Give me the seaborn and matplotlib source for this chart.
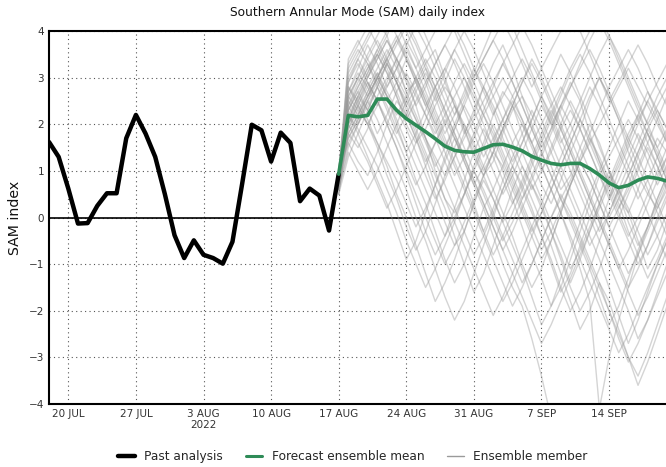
import numpy as np
import pandas as pd
import matplotlib
matplotlib.use("Agg")
import matplotlib.pyplot as plt
import seaborn as sns
from matplotlib.lines import Line2D

# ---------------- data ----------------
past_start = "2022-07-18"
past_values = [1.62, 1.30, 0.62, -0.13, -0.12, 0.25, 0.52, 0.52, 1.70, 2.20,
               1.80, 1.30, 0.50, -0.38, -0.87, -0.49, -0.80, -0.87, -0.99, -0.52,
               0.72, 1.99, 1.87, 1.20, 1.82, 1.60, 0.35, 0.62, 0.47, -0.28, 0.93]

fc_start = "2022-08-17"
mean_values = [0.93, 2.19, 2.16, 2.19, 2.54, 2.54, 2.30, 2.12, 1.98, 1.84,
               1.69, 1.53, 1.44, 1.41, 1.40, 1.48, 1.56, 1.57, 1.51, 1.43,
               1.31, 1.23, 1.16, 1.13, 1.16, 1.16, 1.05, 0.91, 0.74, 0.64,
               0.69, 0.80, 0.87, 0.84, 0.78]

members = [
    [0.9, 2.3, 2.8, 3.2, 3.5, 3.1, 2.6, 2.0, 1.6, 1.9, 2.4, 2.8, 2.5, 1.9, 1.3, 0.9, 1.2, 1.8, 2.3, 2.6, 2.2, 1.7, 1.1, 0.6, 0.9, 1.5, 2.0, 1.6, 1.0, 0.4, 0.1, 0.6, 1.2, 1.7, 1.4],
    [0.8, 1.8, 1.5, 1.9, 2.6, 3.0, 3.4, 3.0, 2.4, 1.7, 1.0, 0.4, 0.1, 0.5, 1.1, 1.6, 2.2, 2.7, 2.4, 1.8, 1.2, 0.7, 0.3, 0.8, 1.4, 1.9, 2.5, 3.0, 2.6, 2.1, 1.4, 0.9, 0.5, 0.2, 0.6],
    [0.7, 2.9, 3.4, 3.8, 4.2, 3.9, 3.3, 2.7, 2.9, 3.3, 3.6, 3.0, 2.4, 1.8, 2.2, 2.8, 3.3, 3.7, 3.2, 2.6, 2.0, 1.5, 1.9, 2.4, 2.9, 2.5, 1.8, 1.2, 0.7, 1.1, 1.6, 2.2, 2.7, 2.3, 1.9],
    [1.0, 1.6, 1.2, 0.9, 1.4, 2.0, 2.5, 2.2, 1.7, 1.1, 0.5, -0.1, -0.6, -0.3, 0.3, 0.9, 1.4, 1.1, 0.6, 0.1, -0.4, -0.9, -0.5, 0.1, 0.7, 1.2, 0.8, 0.3, -0.2, 0.2, 0.7, 1.3, 1.8, 1.4, 0.9],
    [0.6, 2.1, 2.6, 2.3, 2.8, 3.3, 2.9, 2.3, 1.8, 1.3, 0.7, 0.2, -0.4, -1.0, -1.6, -1.2, -0.6, 0.0, 0.6, 1.1, 0.7, 0.2, -0.3, -0.8, -1.4, -0.9, -0.3, 0.3, 0.9, 0.5, -0.1, -0.6, -0.2, 0.4, 0.9],
    [0.9, 2.5, 2.2, 2.7, 3.1, 2.6, 2.0, 1.4, 0.8, 0.3, -0.3, -0.9, -1.4, -1.0, -0.4, 0.2, -0.4, -1.0, -1.5, -1.9, -2.6, -3.4, -4.3, -5.0, -5.4, -5.6, -5.5, -5.3, -5.0, -4.8, -4.6, -4.5, -4.4, -4.3, -4.2],
    [0.8, 2.0, 2.4, 2.9, 2.5, 2.0, 1.5, 0.9, 0.3, -0.3, -0.8, -0.4, 0.2, 0.8, 1.4, 1.9, 1.5, 1.0, 0.4, -0.2, -0.8, -1.3, -1.9, -1.5, -0.9, -0.3, 0.3, 0.9, 0.5, 0.0, -0.5, -1.0, -0.6, 0.0, 0.5],
    [0.9, 2.7, 3.1, 2.8, 2.4, 2.9, 3.4, 3.8, 3.4, 2.9, 2.3, 1.8, 2.2, 2.7, 3.2, 2.8, 2.3, 1.7, 1.2, 1.6, 2.1, 2.6, 3.0, 3.5, 3.1, 2.6, 2.1, 1.5, 1.0, 0.5, 0.9, 1.4, 1.9, 1.5, 1.0],
    [0.7, 1.9, 2.3, 2.0, 1.5, 0.9, 0.4, -0.2, -0.7, -0.3, 0.3, 0.9, 1.5, 2.0, 1.6, 1.1, 0.6, 0.1, -0.4, -1.0, -1.5, -1.1, -0.5, 0.1, 0.7, 1.2, 1.7, 1.3, 0.8, 0.3, -0.3, -0.8, -1.3, -0.9, -0.4],
    [1.0, 3.2, 3.6, 3.3, 2.8, 2.3, 1.8, 2.2, 2.7, 3.1, 2.7, 2.2, 1.7, 1.2, 0.7, 1.1, 1.6, 2.1, 2.6, 3.0, 2.6, 2.1, 1.6, 1.1, 0.6, 0.1, -0.4, -0.9, -1.5, -2.1, -2.7, -2.2, -1.6, -1.0, -0.5],
    [0.5, 1.3, 1.8, 2.3, 2.8, 3.3, 3.7, 4.1, 3.7, 3.2, 2.6, 2.0, 1.4, 0.9, 0.3, -0.3, 0.2, 0.8, 1.3, 1.8, 2.3, 1.9, 1.4, 0.9, 0.4, -0.1, -0.6, -0.2, 0.4, 1.0, 1.5, 2.0, 2.5, 2.1, 1.6],
    [0.9, 2.2, 1.9, 1.5, 1.1, 0.6, 0.1, -0.5, -1.0, -1.5, -1.1, -0.6, -0.1, 0.5, 1.0, 1.5, 2.0, 1.6, 1.1, 0.6, 0.1, -0.4, -0.9, -1.5, -2.0, -1.6, -1.1, -0.5, 0.1, 0.6, 0.2, -0.3, -0.8, -0.4, 0.1],
    [0.8, 2.6, 3.0, 3.5, 3.9, 4.3, 3.9, 3.4, 2.9, 2.4, 1.9, 1.4, 0.9, 1.3, 1.8, 2.3, 2.8, 3.3, 2.9, 2.4, 1.9, 1.4, 0.9, 0.4, 0.8, 1.3, 1.8, 2.3, 2.8, 3.2, 3.6, 3.2, 2.7, 2.2, 1.7],
    [0.6, 1.5, 2.0, 2.5, 2.1, 1.6, 1.1, 0.6, 0.0, -0.5, -1.1, -1.7, -2.2, -1.8, -1.2, -0.6, 0.0, 0.6, 1.1, 0.7, 0.2, -0.4, -1.0, -1.6, -1.2, -0.6, 0.0, 0.5, 1.0, 0.6, 0.1, -0.5, -1.1, -0.7, -0.1],
    [0.9, 2.4, 2.9, 3.3, 2.9, 2.5, 2.9, 3.4, 3.0, 2.5, 2.0, 1.5, 1.9, 2.4, 2.0, 1.5, 1.0, 0.5, 0.9, 1.4, 1.9, 2.4, 2.0, 1.5, 1.0, 0.5, 0.0, -0.5, -1.0, -1.5, -2.0, -2.6, -2.2, -1.7, -1.2],
    [1.0, 1.7, 2.1, 2.6, 3.0, 3.4, 3.0, 2.6, 2.1, 1.6, 1.1, 1.5, 2.0, 2.5, 3.0, 3.4, 3.8, 3.4, 2.9, 2.4, 1.9, 1.4, 0.9, 0.4, -0.1, -0.6, -1.1, -1.7, -2.3, -1.9, -1.3, -0.7, -0.2, 0.3, 0.8],
    [0.7, 2.8, 2.5, 2.1, 1.6, 1.1, 0.5, 0.0, -0.6, -1.2, -1.8, -1.4, -0.9, -0.3, 0.3, 0.8, 0.4, -0.1, -0.6, -1.1, -1.7, -2.3, -1.9, -1.3, -0.7, -0.1, 0.5, 1.0, 1.5, 2.0, 2.5, 2.1, 1.6, 1.1, 0.6],
    [0.8, 2.0, 2.5, 3.0, 3.5, 3.9, 4.4, 4.0, 3.5, 3.0, 2.5, 2.9, 3.4, 3.0, 2.5, 2.0, 1.5, 1.9, 2.4, 2.9, 3.3, 2.9, 2.4, 1.9, 1.4, 0.9, 0.4, -0.1, -0.6, -1.1, -1.6, -2.1, -1.7, -1.2, -0.7],
    [0.9, 2.3, 2.7, 2.3, 1.8, 2.2, 2.7, 3.1, 2.7, 2.2, 1.7, 1.2, 0.7, 0.2, -0.3, -0.8, -1.3, -1.8, -1.4, -0.9, -0.4, 0.1, 0.6, 1.1, 1.6, 2.1, 1.7, 1.2, 0.7, 0.2, 0.6, 1.1, 1.6, 2.1, 2.6],
    [0.6, 1.4, 1.0, 0.6, 1.0, 1.5, 2.0, 2.5, 3.0, 2.6, 2.1, 1.6, 1.1, 0.6, 0.1, -0.4, -0.9, -1.4, -1.9, -1.5, -1.0, -0.5, 0.0, 0.5, 0.1, -0.4, -0.9, -1.4, -2.0, -2.6, -3.1, -2.7, -2.2, -1.6, -1.0],
    [1.0, 3.0, 3.4, 3.0, 3.4, 3.8, 3.4, 2.9, 2.4, 2.8, 3.3, 3.7, 3.3, 2.8, 2.3, 1.8, 1.3, 0.8, 0.3, 0.7, 1.2, 1.7, 2.2, 2.7, 3.2, 3.6, 4.0, 4.3, 3.9, 3.4, 2.9, 2.4, 2.0, 2.4, 2.8],
    [0.5, 1.9, 2.4, 2.0, 1.6, 1.2, 0.8, 0.3, -0.2, 0.2, 0.7, 1.2, 1.7, 1.3, 0.8, 0.3, -0.2, -0.7, -0.3, 0.2, 0.7, 0.3, -0.3, -0.9, -1.5, -2.0, -1.6, -1.1, -0.5, 0.0, 0.5, 1.0, 1.5, 1.1, 0.6],
    [0.9, 2.6, 2.3, 2.7, 3.1, 2.7, 2.3, 1.9, 1.4, 0.9, 0.4, 0.8, 1.3, 1.8, 2.3, 2.8, 2.4, 1.9, 1.4, 0.9, 0.4, -0.1, -0.6, -1.2, -1.8, -2.4, -2.0, -1.4, -1.8, -2.4, -3.0, -3.6, -3.1, -2.5, -1.9],
    [0.8, 2.1, 2.5, 2.9, 2.5, 2.1, 1.7, 1.2, 0.7, 1.1, 1.6, 2.1, 1.7, 1.2, 0.7, 0.2, 0.6, 1.1, 1.6, 2.0, 1.6, 1.1, 0.6, 0.1, -0.5, -1.1, -1.8, -4.1, -3.0, -2.2, -1.5, -0.8, -0.2, 0.4, 0.9],
    [0.7, 1.6, 2.0, 2.4, 2.8, 2.4, 1.9, 1.4, 1.8, 2.3, 2.8, 3.2, 3.6, 3.2, 2.7, 2.2, 1.7, 1.2, 0.7, 0.2, -0.3, 0.1, 0.6, 1.1, 1.6, 2.1, 2.6, 3.0, 2.6, 2.1, 1.6, 1.1, 0.6, 0.1, -0.4],
    [1.0, 2.4, 2.8, 3.2, 3.6, 3.2, 2.7, 2.2, 1.7, 1.2, 1.6, 2.0, 2.4, 2.0, 1.5, 1.0, 1.4, 1.9, 2.4, 2.0, 1.5, 1.0, 1.4, 1.9, 2.3, 1.9, 1.4, 0.9, 0.4, 0.8, 1.3, 1.8, 1.4, 0.9, 1.3],
    [0.6, 2.2, 1.8, 1.3, 0.8, 0.3, -0.3, -0.9, -0.5, 0.1, 0.7, 1.3, 1.9, 2.4, 2.9, 3.3, 2.9, 2.4, 1.9, 1.4, 0.9, 0.4, -0.1, -0.6, -1.1, -0.7, -0.2, 0.3, 0.8, 1.3, 1.8, 2.2, 1.8, 1.3, 0.8],
    [0.9, 1.8, 2.2, 2.6, 3.0, 2.6, 2.1, 1.6, 1.1, 0.6, 0.1, -0.4, 0.0, 0.5, 1.0, 0.6, 0.1, -0.4, -0.9, -1.4, -1.0, -0.5, 0.0, 0.4, 0.0, -0.5, -1.0, -1.5, -2.0, -2.5, -3.0, -3.4, -2.9, -2.3, -1.7],
    [0.8, 3.4, 3.8, 3.4, 3.0, 2.6, 2.2, 2.6, 3.0, 3.4, 3.0, 2.5, 2.0, 1.5, 1.0, 0.5, 0.0, -0.5, -0.1, 0.4, 0.9, 1.4, 1.9, 2.4, 2.0, 1.5, 1.0, 0.5, 0.0, 0.4, 0.9, 1.4, 1.9, 2.3, 1.9],
    [0.7, 2.0, 2.4, 2.8, 3.2, 3.6, 3.2, 2.7, 2.2, 1.7, 1.2, 0.7, 0.2, -0.3, -0.8, -0.4, 0.1, 0.6, 1.1, 1.6, 2.1, 2.6, 2.2, 1.7, 1.2, 0.7, 0.2, -0.3, 0.1, 0.6, 1.1, 1.6, 2.1, 2.6, 3.0],
    [0.9, 3.1, 3.5, 3.9, 4.3, 4.6, 4.2, 3.7, 3.2, 3.6, 4.0, 4.4, 4.0, 3.5, 3.0, 3.4, 3.8, 4.2, 3.8, 3.3, 2.8, 3.2, 3.6, 4.0, 4.4, 4.0, 3.5, 3.0, 2.5, 2.9, 3.3, 3.7, 3.3, 2.8, 2.4],
    [0.8, 2.7, 3.2, 3.7, 3.3, 2.8, 3.2, 3.7, 4.1, 3.7, 3.2, 2.7, 2.2, 2.6, 3.1, 3.6, 4.1, 4.5, 4.1, 3.6, 3.1, 2.6, 2.1, 1.6, 2.0, 2.5, 3.0, 3.5, 3.9, 3.5, 3.0, 2.5, 2.0, 1.5, 1.9],
    [0.7, 2.4, 2.0, 2.5, 3.0, 3.5, 3.9, 3.5, 3.0, 2.5, 2.0, 2.4, 2.9, 3.3, 2.9, 2.4, 1.9, 1.4, 0.9, 0.4, 0.8, 1.3, 1.8, 2.3, 2.8, 3.3, 3.8, 4.2, 3.8, 3.3, 2.8, 2.3, 1.8, 1.3, 0.8],
    [1.0, 2.0, 1.6, 1.2, 0.7, 0.2, 0.6, 1.1, 1.6, 2.1, 2.6, 3.1, 3.6, 4.0, 3.6, 3.1, 2.6, 2.1, 1.6, 1.1, 0.6, 1.0, 1.5, 2.0, 2.5, 2.1, 1.6, 1.1, 0.6, 0.1, -0.4, 0.0, 0.5, 1.0, 1.5],
    [0.6, 2.9, 3.3, 2.9, 2.5, 2.0, 1.5, 1.0, 0.5, 0.0, -0.5, -1.0, -0.6, -0.1, 0.4, 0.9, 1.4, 1.9, 2.4, 2.9, 3.4, 3.0, 2.5, 2.0, 1.5, 1.0, 0.5, 0.0, -0.5, -1.0, -1.5, -1.1, -0.6, -0.1, 0.4],
    [0.9, 2.5, 3.0, 3.4, 3.8, 3.4, 2.9, 2.4, 1.9, 1.4, 0.9, 0.4, -0.1, -0.6, -1.1, -1.6, -2.1, -1.7, -1.2, -0.7, -0.2, 0.3, 0.8, 1.3, 1.8, 2.3, 2.8, 2.4, 1.9, 1.4, 0.9, 0.4, 0.8, 1.3, 1.8],
    [0.8, 1.7, 2.1, 2.5, 2.9, 3.3, 2.9, 2.4, 2.8, 3.2, 2.8, 2.3, 1.8, 1.3, 1.7, 2.2, 1.8, 1.3, 0.8, 0.3, -0.2, -0.7, -0.3, 0.2, 0.7, 1.2, 0.8, 0.3, -0.2, -0.7, -1.2, -0.8, -0.3, 0.2, 0.7],
    [0.7, 3.3, 3.7, 4.1, 3.7, 3.3, 2.9, 2.5, 2.1, 1.7, 1.3, 0.9, 1.3, 1.7, 2.1, 2.5, 2.9, 3.3, 3.7, 4.1, 3.7, 3.2, 2.7, 2.2, 1.7, 1.2, 1.6, 2.0, 2.4, 2.8, 3.2, 2.8, 2.4, 2.0, 1.6],
    [0.9, 2.1, 2.6, 3.1, 3.6, 4.0, 4.4, 4.8, 4.4, 3.9, 3.4, 2.9, 2.4, 1.9, 1.4, 0.9, 0.4, -0.1, 0.3, 0.8, 1.3, 1.8, 2.3, 1.9, 1.4, 0.9, 0.4, -0.1, -0.6, -1.1, -0.7, -0.2, 0.3, 0.8, 1.3],
    [0.5, 2.3, 2.7, 3.1, 3.5, 3.1, 2.6, 2.1, 2.5, 2.9, 3.3, 3.7, 4.1, 3.7, 3.2, 2.7, 2.2, 2.6, 3.0, 3.4, 3.0, 2.5, 2.0, 2.4, 2.8, 3.2, 3.6, 3.2, 2.7, 2.2, 1.7, 2.1, 2.5, 2.9, 3.3],
    [1.0, 2.8, 2.4, 2.0, 2.4, 2.8, 3.2, 3.6, 3.2, 2.7, 2.2, 1.7, 1.2, 0.7, 0.2, -0.3, -0.8, -0.4, 0.1, 0.6, 1.1, 1.6, 2.1, 2.6, 3.1, 3.5, 3.1, 2.6, 2.1, 1.6, 1.1, 0.6, 0.1, -0.4, -0.9],
    [0.8, 2.2, 2.6, 3.0, 3.4, 3.8, 3.4, 3.0, 2.6, 2.2, 1.8, 2.2, 2.6, 3.0, 2.6, 2.2, 2.6, 3.0, 2.6, 2.1, 1.6, 1.1, 0.6, 0.1, -0.4, -0.9, -1.4, -1.9, -2.4, -2.9, -2.5, -2.0, -1.5, -1.0, -0.5],
    [0.6, 1.8, 2.2, 2.6, 3.0, 3.4, 3.8, 4.2, 3.8, 3.3, 2.8, 2.3, 1.8, 1.3, 0.8, 0.3, -0.2, -0.7, -1.2, -1.7, -2.2, -2.7, -2.3, -1.8, -1.3, -0.8, -0.3, 0.2, 0.7, 1.2, 1.7, 1.3, 0.8, 0.3, -0.2],
    [0.9, 2.6, 3.0, 2.6, 3.0, 3.4, 3.8, 3.4, 2.9, 2.4, 2.8, 3.2, 2.8, 2.3, 1.8, 1.3, 1.7, 2.1, 2.5, 2.1, 1.6, 2.0, 2.4, 2.8, 2.4, 1.9, 1.4, 0.9, 1.3, 1.7, 2.1, 1.7, 1.2, 0.7, 1.1],
]

tick_dates = ["2022-07-20", "2022-07-27", "2022-08-03", "2022-08-10", "2022-08-17",
              "2022-08-24", "2022-08-31", "2022-09-07", "2022-09-14"]
tick_labels = ["20 JUL", "27 JUL", "3 AUG\n2022", "10 AUG", "17 AUG",
               "24 AUG", "31 AUG", "7 SEP", "14 SEP"]
yticks = [-4, -3, -2, -1, 0, 1, 2, 3, 4]

title = "Southern Annular Mode (SAM) daily index"
ylabel = "SAM index"
legend_labels = ["Past analysis", "Forecast ensemble mean", "Ensemble member"]

# ---------------- frames ----------------
past_df = pd.DataFrame({"date": pd.date_range(past_start, periods=len(past_values), freq="D"),
                        "sam": past_values})
fc_dates = pd.date_range(fc_start, periods=len(mean_values), freq="D")
mean_df = pd.DataFrame({"date": fc_dates, "sam": mean_values})
mem_df = pd.concat([pd.DataFrame({"date": fc_dates[:len(m)], "sam": m, "member": i})
                    for i, m in enumerate(members)], ignore_index=True)

# ---------------- plot ----------------
sns.set_style("white")
plt.rcParams["font.family"] = ["DejaVu Sans"]

fig = plt.figure(figsize=(6.66, 4.67), dpi=100)
ax = fig.add_axes([49 / 666, 63 / 467, 618 / 666, 373 / 467])

green = "#2e8b57"
grey = "#9a9a9a"

sns.lineplot(data=mem_df, x="date", y="sam", units="member", estimator=None,
             color=grey, alpha=0.42, linewidth=1.0, ax=ax, legend=False)
sns.lineplot(data=past_df, x="date", y="sam", color="black", linewidth=3.2,
             ax=ax, legend=False)
sns.lineplot(data=mean_df, x="date", y="sam", color=green, linewidth=2.6,
             ax=ax, legend=False)

ax.axhline(0, color="black", linewidth=1.2, zorder=1)

ax.set_xlim(pd.Timestamp("2022-07-18"), pd.Timestamp("2022-09-20"))
ax.set_ylim(-4, 4)
ax.set_yticks(yticks)
ax.set_xticks(pd.to_datetime(tick_dates))
ax.set_xticklabels(tick_labels, fontsize=7.5, color="#333333")
ax.tick_params(axis="y", labelsize=7.5, labelcolor="#333333")
ax.tick_params(axis="both", direction="in", length=4, color="black", width=1)
ax.grid(True, linestyle=(0, (1, 3)), color="#555555", linewidth=0.8)

for s in ["left", "bottom", "top"]:
    ax.spines[s].set_color("black")
    ax.spines[s].set_linewidth(1.5)
ax.spines["right"].set_visible(False)

ax.set_xlabel("")
ax.set_ylabel(ylabel, fontsize=10.2, color="#111111")
ax.yaxis.set_label_coords(-0.044, 0.5)
ax.set_title(title, fontsize=8.8, color="#111111", pad=11)

handles = [Line2D([], [], color="black", linewidth=3.2),
           Line2D([], [], color=green, linewidth=2.2),
           Line2D([], [], color=grey, linewidth=1.0)]
fig.legend(handles, legend_labels, loc="lower center", ncol=3, frameon=False,
           fontsize=8.7, bbox_to_anchor=(0.53, -0.015), handlelength=1.35,
           columnspacing=1.9, handletextpad=0.8)

fig.savefig("out.png", dpi=100)
